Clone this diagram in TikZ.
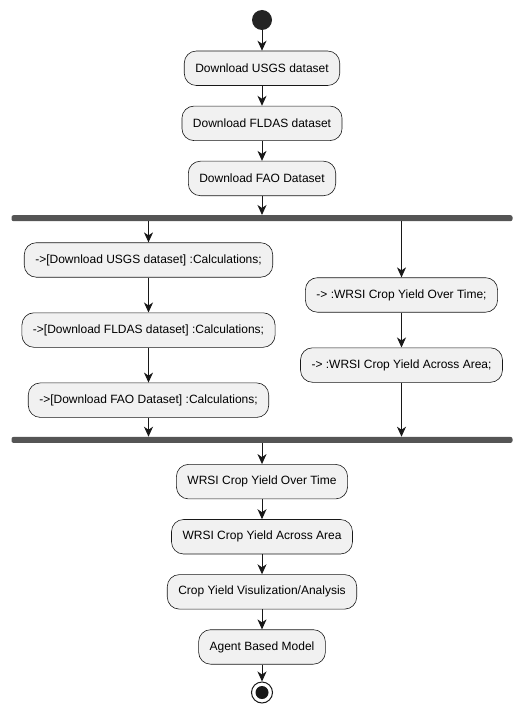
\documentclass[tikz,border=0pt]{standalone}
\usepackage{fontspec}
\setmainfont{Liberation Sans}
\usepackage{tikz}
\usetikzlibrary{shapes,arrows.meta,positioning}

\definecolor{boxfill}{HTML}{F1F1F1}
\definecolor{ink}{HTML}{181818}
\definecolor{bargray}{HTML}{555555}

\begin{document}
\begin{tikzpicture}[x=1pt, y=-1pt, >={Stealth[length=10pt, width=9pt, inset=3pt]}, font=\fontsize{12pt}{14pt}\selectfont]

    % Define block styles
    \tikzstyle{act} = [draw=ink, line width=0.6pt, fill=boxfill, rounded corners=12pt, minimum height=34.5pt, inner xsep=11pt]
    \tikzstyle{bar} = [fill=bargray, rounded corners=2pt, minimum width=501pt, minimum height=6pt, inner sep=0pt]
    \tikzstyle{flow} = [->, draw=ink, line width=1pt]

    \useasboundingbox (0,0) rectangle (524,714);

    % Start and downloads
    \node[circle, fill=ink!95, minimum size=20pt, inner sep=0pt] (start) at (262,20) {};
    \node[act, below=20.5pt of start] (usgs) {Download USGS dataset};
    \node[act, below=20pt of usgs] (fldas) {Download FLDAS dataset};
    \node[act, below=20pt of fldas] (fao) {Download FAO Dataset};
    \node[bar, below=19pt of fao] (fork) {};

    \draw[flow] (start) -- (usgs);
    \draw[flow] (usgs) -- (fldas);
    \draw[flow] (fldas) -- (fao);
    \draw[flow] (fao) -- (fork);

    % Left branch
    \node[act, below=21pt of fork, xshift=-113.5pt] (cUsgs) {->[Download USGS dataset] :Calculations;};
    \node[act, below=35pt of cUsgs] (cFldas) {->[Download FLDAS dataset] :Calculations;};
    \node[act, below=35pt of cFldas] (cFao) {->[Download FAO Dataset] :Calculations;};

    \draw[flow] (fork.south -| cUsgs) -- (cUsgs);
    \draw[flow] (cUsgs) -- (cFldas);
    \draw[flow] (cFldas) -- (cFao);

    % Right branch
    \node[act, below=56pt of fork, xshift=139.5pt] (wTime) {-> :WRSI Crop Yield Over Time;};
    \node[act, below=35pt of wTime] (wArea) {-> :WRSI Crop Yield Across Area;};

    \draw[flow] (fork.south -| wTime) -- (wTime);
    \draw[flow] (wTime) -- (wArea);

    % Join
    \node[bar, below=19pt of cFao, xshift=113.5pt] (join) {};

    \draw[flow] (cFao) -- (cFao |- join.north);
    \draw[flow] (wArea) -- (wArea |- join.north);

    % Results
    \node[act, below=21pt of join] (time) {WRSI Crop Yield Over Time};
    \node[act, below=20pt of time] (area) {WRSI Crop Yield Across Area};
    \node[act, below=20pt of area] (vis) {Crop Yield Visulization/Analysis};
    \node[act, below=20pt of vis] (abm) {Agent Based Model};
    \node[circle, draw=ink, line width=1pt, fill=white, minimum size=21pt, inner sep=0pt, below=17pt of abm] (stop) {};
    \node[circle, fill=ink, minimum size=13pt, inner sep=0pt] (stopdot) at (stop) {};

    \draw[flow] (join) -- (time);
    \draw[flow] (time) -- (area);
    \draw[flow] (area) -- (vis);
    \draw[flow] (vis) -- (abm);
    \draw[flow] (abm) -- (stop);

\end{tikzpicture}
\end{document}
